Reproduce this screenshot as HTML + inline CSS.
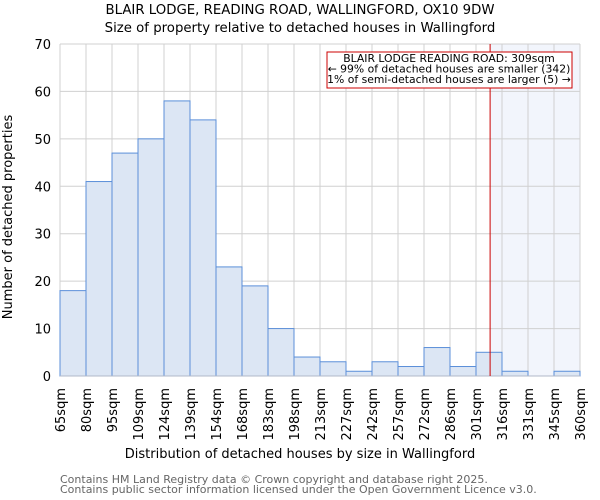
<!DOCTYPE html>
<html><head><meta charset="utf-8"><style>
body{margin:0;background:#fff}
svg{display:block;font-family:"DejaVu Sans","Liberation Sans",sans-serif}
</style></head><body>
<svg id="chart" width="600" height="500" viewBox="0 0 600 500">
<text x="300" y="14" text-anchor="middle" font-size="13.3" fill="#000">BLAIR LODGE, READING ROAD, WALLINGFORD, OX10 9DW</text>
<text x="300" y="32" text-anchor="middle" font-size="13.3" fill="#000">Size of property relative to detached houses in Wallingford</text>
<g id="plot"></g>
<text x="300" y="458" text-anchor="middle" font-size="13">Distribution of detached houses by size in Wallingford</text>
<text transform="translate(12,217) rotate(-90)" text-anchor="middle" font-size="13">Number of detached properties</text>
<text x="60" y="483" font-size="11" fill="#666">Contains HM Land Registry data © Crown copyright and database right 2025.</text>
<text x="60" y="493" font-size="11" fill="#666">Contains public sector information licensed under the Open Government Licence v3.0.</text>
</svg>
<script>
const tickLabels=["65sqm","80sqm","95sqm","109sqm","124sqm","139sqm","154sqm","168sqm","183sqm","198sqm","213sqm","227sqm","242sqm","257sqm","272sqm","286sqm","301sqm","316sqm","331sqm","345sqm","360sqm"];
const counts=[18,41,47,50,58,54,23,19,10,4,3,1,3,2,6,2,5,1,0,1];
const yTicks=[0,10,20,30,40,50,60,70];
const propertySize=309;
const xMin=65, xMax=360;
const L=60,R=580,T=44,B=376,yMax=70;
const ns="http://www.w3.org/2000/svg";
const g=document.getElementById('plot');
const bw=(R-L)/counts.length;
const xb=i=>L+i*bw;
const xv=v=>L+(v-xMin)/(xMax-xMin)*(R-L);
const y=v=>B-v/yMax*(B-T);
function mk(t,a){const e=document.createElementNS(ns,t);for(const k in a)e.setAttribute(k,a[k]);g.appendChild(e);return e;}
const px=xv(propertySize);
let e=mk('rect',{x:px,y:T,width:R-px,height:B-T,fill:'#f2f5fc'});


yTicks.forEach(t=>{
 let l=mk('line',{x1:L,x2:R,y1:y(t),y2:y(t),stroke:'#d0d0d0','stroke-width':1});
 
 
 let tx=mk('text',{x:L-9,y:y(t)+5,'text-anchor':'end','font-size':13});
 tx.textContent=t;
 
 
});
tickLabels.forEach((lab,i)=>{
 let l=mk('line',{x1:xb(i),x2:xb(i),y1:T,y2:B,stroke:'#d0d0d0','stroke-width':1});
 
 
 let tx=mk('text',{transform:`translate(${xb(i)+5},${B+12}) rotate(-90)`,'text-anchor':'end','font-size':13});
 tx.textContent=lab;
 
 
});
counts.forEach((c,i)=>{
 if(c<=0)return;
 let r=mk('rect',{x:xb(i),y:y(c),width:bw,height:B-y(c),fill:'#dce6f4',stroke:'#5b8fd9','stroke-width':1});
 
 
});
let ax=mk('line',{x1:L,x2:R,y1:B,y2:B,stroke:'#b0b8c8','stroke-width':1});


let rl=mk('line',{x1:px,x2:px,y1:T,y2:B,stroke:'#cc0000','stroke-width':1});


let box=mk('rect',{x:327,y:52,width:245,height:36,fill:'#fff',stroke:'#cc0000','stroke-width':1});


["BLAIR LODGE READING ROAD: 309sqm","← 99% of detached houses are smaller (342)","1% of semi-detached houses are larger (5) →"].forEach((s,i)=>{
 let t=mk('text',{x:449,y:62+i*10.5,'text-anchor':'middle','font-size':10.8});
 t.textContent=s;
 
 
});
</script>
</body></html>
